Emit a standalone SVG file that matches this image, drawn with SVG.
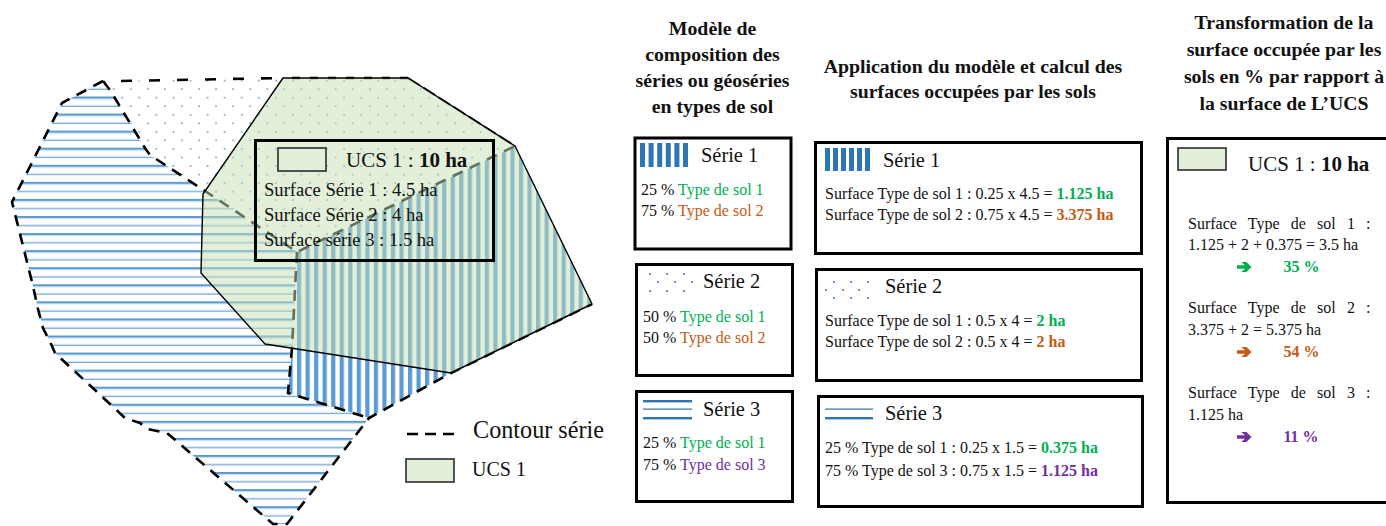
<svg xmlns="http://www.w3.org/2000/svg" width="1386" height="526" viewBox="0 0 1386 526">
<style>
text{font-family:"Liberation Serif","Times New Roman",serif;fill:#111}
.b{font-weight:700}
.h{font-weight:700;font-size:19.8px;text-anchor:middle}
.s{font-size:20.4px}
.t{font-size:16px}
.m{font-size:18.6px}
.u{font-size:21px}
.g{fill:#00B050}.o{fill:#C55A11}.p{fill:#7030A0}
.box{fill:#fff;stroke:#000;stroke-width:3}
.swatch{fill:#E2EFD9;stroke:#2b2b2b;stroke-width:1.6}
.dash{fill:none;stroke:#000;stroke-width:2.6;stroke-dasharray:11 8}
.bar{fill:#2E75B6}
.dot{fill:#2E75B6}
</style>
<defs>
<pattern id="hz" patternUnits="userSpaceOnUse" x="0" y="96.5" width="17.07" height="17.07">
<rect width="17.07" height="2.4" fill="#5B9BD5"/><rect y="2.4" width="17.07" height="1" fill="#E3EEF8"/>
<rect y="8.2" width="17.07" height="1.1" fill="#E3EEF8"/><rect y="9.3" width="17.07" height="1" fill="#5B9BD5"/>
</pattern>
<pattern id="vt" patternUnits="userSpaceOnUse" x="510.4" y="0" width="8.535" height="20">
<rect width="4.2" height="20" fill="#5B9BD5"/>
</pattern>
<pattern id="dt" patternUnits="userSpaceOnUse" x="139.3" y="97.7" width="17.07" height="17.07">
<rect x="-0.8" y="-0.8" width="1.6" height="1.6" fill="#5B9BD5"/><rect x="16.27" y="-0.8" width="1.6" height="1.6" fill="#5B9BD5"/><rect x="-0.8" y="16.27" width="1.6" height="1.6" fill="#5B9BD5"/><rect x="16.27" y="16.27" width="1.6" height="1.6" fill="#5B9BD5"/>
<rect x="7.73" y="7.73" width="1.6" height="1.6" fill="#5B9BD5"/>
</pattern>
<polygon id="arrow" points="0,3.2 8,3.2 4.2,0 9.4,0 14.5,5 9.4,10 4.2,10 8,6.8 0,6.8"/>
</defs>

<g id="map">
<polygon id="serie-3-area" fill="url(#hz)" points="103,81 62,103 12,202 33,286 38,309 43,328 52,346 55,353 110,404 125,418 140,423 148,429 167,433 273,524 287,524 369,418 288,393 292,348 296,270 297,252 205,191 150,155 145,148 110,90"/>
<polygon id="serie-2-area" fill="url(#dt)" points="103,81 283,78 408,78 515,146 297,252 205,191 150,155 145,148 110,90"/>
<polygon id="serie-1-area" fill="url(#vt)" points="297,252 515,146 592,304 451,373 369,418 288,393 292,348 296,270"/>
<g id="contours">
<path class="dash" style="stroke-dasharray:11 17" d="M272,78.2 L120,81"/>
<path class="dash" style="stroke-dasharray:8 10" d="M408,78 L283,78"/>
<path class="dash" d="M103,81 L62,103 L12,202 L33,286 L38,309 L43,328 L52,346 L55,353 L110,404 L125,418 L140,423 L148,429 L167,433 L273,524 L287,524 L369,418 L451,373 L592,304"/>
<path class="dash" d="M103,81 L110,90 L145,148 L150,155 L205,191 L297,252 L515,146"/>
<path class="dash" d="M297,252 L296,270 L292,348 L288,393 L369,418"/>
<path class="dash" style="stroke-width:2;stroke-dasharray:14 4" d="M408,78 L515,146"/>
</g>
<polygon id="ucs-1-area" fill="#C5E0B4" fill-opacity=".5" stroke="#000" stroke-width="1.4" stroke-linejoin="round" points="283,78 408,78 515,146 592,304 451,373 265,344 201,273 203,194"/>
</g>

<g id="map-legend-box">
<rect x="255.5" y="140.5" width="238" height="120" fill="none" stroke="#000" stroke-width="3"/>
<rect class="swatch" x="278" y="148" width="48" height="23"/>
<text class="u" x="346" y="167">UCS 1 : <tspan class="b">10 ha</tspan></text>
<text class="m" x="264" y="196">Surface Série 1 : 4.5 ha</text>
<text class="m" x="264" y="221">Surface Série 2 : 4 ha</text>
<text class="m" x="264" y="246">Surface série 3 : 1.5 ha</text>
</g>

<g id="legend">
<path d="M407,434 H454" fill="none" stroke="#000" stroke-width="2.6" stroke-dasharray="11 7"/>
<text x="473" y="438" font-size="24.2">Contour série</text>
<rect class="swatch" x="406" y="459" width="48" height="23"/>
<text x="472" y="476" font-size="20">UCS 1</text>
</g>

<g id="header-1">
<text class="h" x="712.5" y="35">Modèle de</text>
<text class="h" x="712.5" y="61">composition des</text>
<text class="h" x="712.5" y="87">séries ou géoséries</text>
<text class="h" x="712.5" y="113">en types de sol</text>
</g>
<g id="header-2">
<text class="h" x="973" y="73">Application du modèle et calcul des</text>
<text class="h" x="973" y="98">surfaces occupées par les sols</text>
</g>
<g id="header-3">
<text class="h" x="1284" y="29">Transformation de la</text>
<text class="h" x="1284" y="56">surface occupée par les</text>
<text class="h" x="1284" y="83">sols en % par rapport à</text>
<text class="h" x="1284" y="110">la surface de L’UCS</text>
</g>

<g id="composition-serie-1">
<rect class="box" x="635" y="138" width="156" height="111"/>
<g class="bar"><rect x="640" y="143" width="5" height="24"/><rect x="648.6" y="143" width="5" height="24"/><rect x="657.2" y="143" width="5" height="24"/><rect x="665.8" y="143" width="5" height="24"/><rect x="674.4" y="143" width="5" height="24"/><rect x="683" y="143" width="5" height="24"/></g>
<text class="s" x="701" y="162">Série 1</text>
<text class="t" x="641" y="195">25 % <tspan class="g">Type de sol 1</tspan></text>
<text class="t" x="641" y="216">75 % <tspan class="o">Type de sol 2</tspan></text>
</g>
<g id="composition-serie-2">
<rect class="box" x="636.5" y="264.5" width="156" height="111"/>
<g class="dot"><circle cx="650" cy="274" r="1"/><circle cx="667" cy="274" r="1"/><circle cx="684" cy="274" r="1"/><circle cx="658" cy="282" r="1"/><circle cx="675" cy="282" r="1"/><circle cx="692" cy="282" r="1"/><circle cx="650" cy="291" r="1"/><circle cx="667" cy="291" r="1"/><circle cx="684" cy="291" r="1"/></g>
<text class="s" x="703" y="288">Série 2</text>
<text class="t" x="643" y="322">50 % <tspan class="g">Type de sol 1</tspan></text>
<text class="t" x="643" y="343">50 % <tspan class="o">Type de sol 2</tspan></text>
</g>
<g id="composition-serie-3">
<rect class="box" x="636.5" y="391.5" width="156" height="110"/>
<g class="bar"><rect x="643" y="400" width="49" height="2.4"/><rect x="643" y="408.5" width="49" height="1.2"/><rect x="643" y="417" width="49" height="2.4"/></g>
<text class="s" x="703" y="416">Série 3</text>
<text class="t" x="643" y="448">25 % <tspan class="g">Type de sol 1</tspan></text>
<text class="t" x="643" y="470">75 % <tspan class="p">Type de sol 3</tspan></text>
</g>

<g id="application-serie-1">
<rect class="box" x="815.5" y="142.5" width="326" height="111"/>
<g class="bar"><rect x="825" y="148" width="5" height="23"/><rect x="833" y="148" width="5" height="23"/><rect x="841" y="148" width="5" height="23"/><rect x="849" y="148" width="5" height="23"/><rect x="857" y="148" width="5" height="23"/><rect x="865" y="148" width="5" height="23"/></g>
<text class="s" x="883" y="167">Série 1</text>
<text class="t" x="825" y="199">Surface Type de sol 1 : 0.25 x 4.5 = <tspan class="b g">1.125 ha</tspan></text>
<text class="t" x="825" y="220">Surface Type de sol 2 : 0.75 x 4.5 = <tspan class="b o">3.375 ha</tspan></text>
</g>
<g id="application-serie-2">
<rect class="box" x="816.5" y="269.5" width="325" height="111"/>
<g class="dot"><circle cx="834" cy="282" r="1"/><circle cx="851" cy="282" r="1"/><circle cx="868" cy="282" r="1"/><circle cx="826" cy="290" r="1"/><circle cx="843" cy="290" r="1"/><circle cx="859" cy="290" r="1"/><circle cx="834" cy="298" r="1"/><circle cx="851" cy="298" r="1"/><circle cx="868" cy="298" r="1"/></g>
<text class="s" x="885" y="293">Série 2</text>
<text class="t" x="825" y="326">Surface Type de sol 1 : 0.5 x 4 = <tspan class="b g">2 ha</tspan></text>
<text class="t" x="825" y="347">Surface Type de sol 2 : 0.5 x 4 = <tspan class="b o">2 ha</tspan></text>
</g>
<g id="application-serie-3">
<rect class="box" x="818.5" y="396.5" width="324" height="110"/>
<g class="bar"><rect x="825" y="408.5" width="48" height="1.2"/><rect x="825" y="417" width="48" height="2.4"/></g>
<text class="s" x="885" y="420">Série 3</text>
<text class="t" x="825" y="453">25 % Type de sol 1 : 0.25 x 1.5 = <tspan class="b g">0.375 ha</tspan></text>
<text class="t" x="825" y="476">75 % Type de sol 3 : 0.75 x 1.5 = <tspan class="b p">1.125 ha</tspan></text>
</g>

<g id="transformation-ucs">
<rect class="box" x="1167.5" y="138.5" width="230" height="364"/>
<rect class="swatch" x="1178" y="148" width="48" height="22"/>
<text class="u" x="1248" y="171">UCS 1 : <tspan class="b">10 ha</tspan></text>
<text class="t" x="1188" y="229" word-spacing="7.2">Surface Type de sol 1 :</text>
<text class="t" x="1188" y="250">1.125 + 2 + 0.375 = 3.5 ha</text>
<use href="#arrow" x="1237" y="262" class="g"/>
<text class="t b g" x="1283.5" y="272">35 %</text>
<text class="t" x="1188" y="313" word-spacing="7.2">Surface Type de sol 2 :</text>
<text class="t" x="1188" y="335">3.375 + 2 = 5.375 ha</text>
<use href="#arrow" x="1237" y="347" class="o"/>
<text class="t b o" x="1283.5" y="357">54 %</text>
<text class="t" x="1188" y="398" word-spacing="7.2">Surface Type de sol 3 :</text>
<text class="t" x="1188" y="420">1.125 ha</text>
<use href="#arrow" x="1237" y="432" class="p"/>
<text class="t b p" x="1283.5" y="442">11 %</text>
</g>
</svg>
